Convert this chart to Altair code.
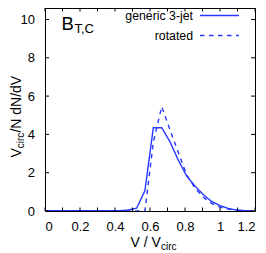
import altair as alt
import pandas as pd

# ---- data ----
v = [0.0, 0.048, 0.095, 0.143, 0.190, 0.238, 0.286, 0.333, 0.381, 0.429,
     0.476, 0.524, 0.571, 0.619, 0.667, 0.714, 0.762, 0.810, 0.857, 0.905,
     0.952, 1.0, 1.048, 1.095, 1.143, 1.190]
generic = [0.01, 0.01, 0.01, 0.01, 0.01, 0.01, 0.01, 0.01, 0.01, 0.02,
           0.05, 0.15, 1.06, 4.35, 4.35, 3.62, 2.65, 1.82, 1.30, 0.85,
           0.50, 0.28, 0.13, 0.05, 0.02, 0.01]
rotated = [0.0, 0.0, 0.0, 0.0, 0.0, 0.0, 0.0, 0.0, 0.0, 0.0,
           0.0, 0.0, 0.0, 3.6, 5.45, 4.25, 3.05, 1.88, 1.20, 0.72,
           0.40, 0.20, 0.10, 0.04, 0.01, 0.0]
series_names = ["generic 3-jet", "rotated"]
x_tick_labels = [0, 0.2, 0.4, 0.6, 0.8, 1.0, 1.2]
x_ticks = [0, 0.1, 0.2, 0.3, 0.4, 0.5, 0.6, 0.7, 0.8, 0.9, 1.0, 1.1, 1.2]
y_ticks = [0, 2, 4, 6, 8, 10]

W, H = 210, 203
FONT = "Liberation Sans"
BLUE = "#2838ff"

df = pd.DataFrame({
    "v": v + v,
    "val": generic + rotated,
    "series": [series_names[0]] * len(v) + [series_names[1]] * len(v),
})

xs = alt.Scale(domain=[0, 1.2], nice=False, zero=False)
ys = alt.Scale(domain=[0, 10.6], nice=False)
x_axis = alt.Axis(values=x_tick_labels, format="~g", title=None,
                  labelPadding=9.5, labelBaseline="top")
y_axis = alt.Axis(values=y_ticks, title=None, labelPadding=10.5)

lines = alt.Chart(df).mark_line(color=BLUE, strokeWidth=1.4, clip=True).encode(
    x=alt.X("v:Q", scale=xs, axis=x_axis),
    y=alt.Y("val:Q", scale=ys, axis=y_axis),
    strokeDash=alt.StrokeDash("series:N",
                              scale=alt.Scale(domain=series_names,
                                              range=[[1, 0], [4.5, 4.5]]),
                              legend=None),
    detail="series:N",
)

xt = pd.DataFrame({"t": x_ticks})
yt = pd.DataFrame({"t": y_ticks})
TL = 3.5
bot_ticks = alt.Chart(xt).mark_rule(color="black", strokeWidth=1).encode(
    x=alt.X("t:Q", scale=xs, axis=x_axis), y=alt.value(H), y2=alt.value(H - TL))
top_ticks = alt.Chart(xt).mark_rule(color="black", strokeWidth=1).encode(
    x=alt.X("t:Q", scale=xs, axis=x_axis), y=alt.value(0), y2=alt.value(TL))
left_ticks = alt.Chart(yt).mark_rule(color="black", strokeWidth=1).encode(
    y=alt.Y("t:Q", scale=ys, axis=y_axis), x=alt.value(0), x2=alt.value(4))
right_ticks = alt.Chart(yt).mark_rule(color="black", strokeWidth=1).encode(
    y=alt.Y("t:Q", scale=ys, axis=y_axis), x=alt.value(W - 4), x2=alt.value(W))

one = pd.DataFrame({"a": [0]})


def txt(s, x, y, size, align="left", baseline="alphabetic", angle=0):
    kw = dict(font=FONT, fontSize=size, color="black", align=align,
              baseline=baseline)
    if angle:
        kw["angle"] = angle
    return alt.Chart(one).mark_text(**kw).encode(
        x=alt.value(x), y=alt.value(y), text=alt.value(s))


# legend
leg_text = [
    txt(series_names[0], 148, 12, 12.3, align="right"),
    txt(series_names[1], 148, 32, 12.3, align="right"),
]
leg_solid = alt.Chart(one).mark_rule(color=BLUE, strokeWidth=1.4).encode(
    x=alt.value(155), x2=alt.value(194), y=alt.value(7.5))
leg_dash = alt.Chart(one).mark_rule(color=BLUE, strokeWidth=1.4,
                                    strokeDash=[4.5, 4.5]).encode(
    x=alt.value(155), x2=alt.value(194), y=alt.value(27.5))

# panel label B_{T,C}
lab = [
    txt("B", 16.5, 21.5, 18.5),
    txt("T,C", 29.5, 24.5, 13),
]

# x title: V / V_circ
xtitle = [
    txt("V / V", 85.5, 239, 14),
    txt("circ", 116, 241.5, 10),
]

# y title: V_circ/N  dN/dV (rotated)
ytitle = [
    txt("V", -24, 149.5, 14, angle=270),
    txt("circ", -21, 140.2, 10, angle=270),
    txt("/N  dN/dV", -24, 124.6, 14, angle=270),
]

chart = alt.layer(
    lines, bot_ticks, top_ticks, left_ticks, right_ticks,
    *leg_text, leg_solid, leg_dash, *lab, *xtitle, *ytitle,
).properties(
    width=W, height=H,
    autosize=alt.AutoSizeParams(type="none"),
    padding={"left": 37, "top": 0, "right": 3, "bottom": 42},
).configure_view(
    stroke="black", strokeWidth=1
).configure_axis(
    domain=False, ticks=False, tickSize=0, grid=False,
    labelFont=FONT, labelFontSize=13, labelColor="black",
)

chart.save("out.html", embed_options={"renderer": "svg", "actions": False})
